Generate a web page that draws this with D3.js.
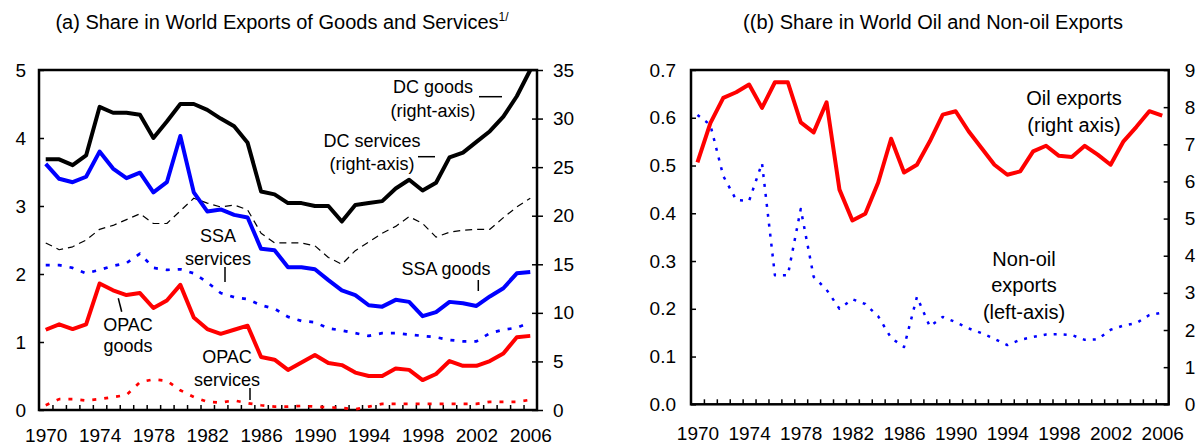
<!DOCTYPE html>
<html>
<head>
<meta charset="utf-8">
<script src="https://cdn.jsdelivr.net/npm/d3@7"></script>
<style>
body{margin:0;background:#fff;}
text{font-family:"Liberation Sans",Arial,sans-serif;fill:#000;}
</style>
</head>
<body>
<svg id="chart" width="1197" height="444"></svg>
<script>
// years on the x axis
var years = d3.range(1970, 2007);
var yearLabels = [1970, 1974, 1978, 1982, 1986, 1990, 1994, 1998, 2002, 2006];

// panel (a): share in world exports, percent
var dcGoods = [25.8,25.8,25.2,26.2,31.2,30.6,30.6,30.4,28.0,29.7,31.5,31.5,30.9,30.0,29.2,27.5,22.5,22.2,21.3,21.3,21.0,21.0,19.4,21.1,21.3,21.5,22.8,23.7,22.6,23.4,26.0,26.5,27.6,28.7,30.2,32.3,35.0];
var dcServices = [17.2,16.5,16.8,17.5,18.6,19.0,19.6,20.2,19.2,19.2,20.5,21.8,21.3,20.9,21.1,20.6,18.2,17.2,17.2,17.2,16.9,15.7,15.0,16.4,17.3,18.2,18.9,19.9,19.2,17.8,18.3,18.5,18.6,18.6,19.8,20.9,21.8];
var ssaGoods = [3.62,3.40,3.35,3.43,3.80,3.55,3.41,3.49,3.20,3.35,4.03,3.20,2.92,2.95,2.87,2.83,2.37,2.35,2.10,2.10,2.07,1.91,1.76,1.69,1.54,1.52,1.62,1.59,1.38,1.44,1.59,1.57,1.53,1.67,1.79,2.01,2.03];
var ssaServices = [2.13,2.13,2.09,2.01,2.06,2.12,2.16,2.30,2.09,2.06,2.07,2.01,1.88,1.72,1.66,1.63,1.54,1.49,1.37,1.31,1.29,1.20,1.17,1.13,1.09,1.13,1.13,1.11,1.09,1.07,1.03,1.01,1.01,1.13,1.18,1.21,1.29];
var opacGoods = [1.18,1.26,1.19,1.26,1.86,1.76,1.69,1.72,1.50,1.61,1.84,1.36,1.19,1.12,1.18,1.24,0.78,0.74,0.59,0.70,0.81,0.69,0.66,0.55,0.50,0.50,0.61,0.59,0.44,0.53,0.72,0.65,0.65,0.72,0.83,1.07,1.09];
var opacServices = [0.07,0.16,0.16,0.14,0.16,0.19,0.22,0.41,0.45,0.43,0.29,0.19,0.12,0.11,0.14,0.10,0.07,0.05,0.05,0.06,0.05,0.04,0.03,0.01,0.05,0.09,0.09,0.09,0.09,0.09,0.09,0.09,0.09,0.12,0.12,0.12,0.15];

// panel (b): oil (right axis) and non-oil (left axis)
var oilExports = [6.51,7.57,8.25,8.40,8.61,7.98,8.67,8.67,7.59,7.32,8.13,5.78,4.95,5.13,5.97,7.15,6.24,6.45,7.08,7.80,7.89,7.35,6.90,6.45,6.18,6.27,6.81,6.96,6.69,6.66,6.96,6.72,6.45,7.08,7.47,7.89,7.77];
var nonOilExports = [0.606,0.585,0.478,0.428,0.426,0.505,0.27,0.27,0.409,0.267,0.24,0.20,0.22,0.21,0.184,0.139,0.12,0.225,0.163,0.183,0.172,0.159,0.149,0.137,0.124,0.135,0.141,0.146,0.147,0.145,0.135,0.136,0.156,0.165,0.170,0.187,0.192];

var leftTicksA = [0,1,2,3,4,5];
var rightTicksA = [0,5,10,15,20,25,30,35];
var leftTicksB = [0,0.1,0.2,0.3,0.4,0.5,0.6,0.7];
var rightTicksB = [0,1,2,3,4,5,6,7,8,9];

var svg = d3.select("#chart");
var minorTicks = years.slice(0, -1).map(function(y){ return y + 0.5; });

function panel(opt){
    var g = svg.append("g");
    var x = d3.scaleLinear().domain([1969.5, 2006.5]).range([opt.x0, opt.x1]);
    var yL = d3.scaleLinear().domain(opt.leftDomain).range([opt.y0, opt.y1]);
    var yR = d3.scaleLinear().domain(opt.rightDomain).range([opt.y0, opt.y1]);

    // bottom minor ticks, pointing up
    g.append("g")
    .attr("transform", `translate(0,${opt.y0})`)
    .call(d3.axisBottom(x).tickValues(minorTicks).tickSize(-5).tickFormat(""))
    .call(a => a.select(".domain").remove())
    .selectAll("line").attr("stroke", "#000").attr("stroke-width", 1.5);
    // year labels
    g.append("g")
    .attr("transform", `translate(0,${opt.y0})`)
    .call(d3.axisBottom(x).tickValues(yearLabels).tickSize(0).tickPadding(opt.xPad).tickFormat(d3.format("d")))
    .call(a => a.select(".domain").remove())
    .selectAll("text").style("font-size", "19px");

    // left axis
    g.append("g")
    .attr("transform", `translate(${opt.x0},0)`)
    .call(d3.axisLeft(yL).tickValues(opt.leftTicks).tickSize(-5).tickPadding(opt.lPad).tickFormat(opt.leftFmt))
    .call(a => a.select(".domain").remove())
    .call(a => a.selectAll("line").attr("stroke", "#000").attr("stroke-width", 1.5))
    .selectAll("text").style("font-size", "19px");

    // right axis
    var ra = g.append("g")
    .attr("transform", `translate(${opt.x1},0)`)
    .call(d3.axisRight(yR).tickValues(opt.rightTicks).tickSize(opt.rTick).tickPadding(opt.rPad).tickFormat(d3.format("d")))
    .call(a => a.select(".domain").remove());
    ra.selectAll("line").attr("stroke", "#000").attr("stroke-width", 1.5);
    if (opt.crossTicks) ra.selectAll("line").attr("x1", -5);
    ra.selectAll("text").style("font-size", "19px");

    // frame
    g.append("rect")
    .attr("x", opt.x0).attr("y", opt.y1)
    .attr("width", opt.x1 - opt.x0).attr("height", opt.y0 - opt.y1)
    .attr("fill", "none").attr("stroke", "#000").attr("stroke-width", 2.5);

    return {g: g, x: x, yL: yL, yR: yR};
}

function drawLine(p, values, scale, color, width, dash){
    var line = d3.line()
    .x((d, i) => p.x(years[i]))
    .y(d => scale(d));
    p.g.append("path")
    .datum(values)
    .attr("d", line)
    .attr("fill", "none")
    .attr("stroke", color)
    .attr("stroke-width", width)
    .attr("stroke-linejoin", "round")
    .attr("stroke-dasharray", dash || null);
}

function label(lines, cx, y0, step, size){
    var t = svg.append("text")
    .attr("text-anchor", "middle")
    .style("font-size", size + "px");
    lines.forEach(function(s, i){
        t.append("tspan").attr("x", cx).attr("y", y0 + i * step).text(s);
    });
}

function leader(x1, y1, x2, y2){
    svg.append("line")
    .attr("x1", x1).attr("y1", y1).attr("x2", x2).attr("y2", y2)
    .attr("stroke", "#000").attr("stroke-width", 1.5);
}

// panel (a)
var pa = panel({
    x0: 39, x1: 537, y0: 410, y1: 70,
    leftDomain: [0, 5], rightDomain: [0, 35],
    leftTicks: leftTicksA, rightTicks: rightTicksA,
    leftFmt: d3.format("d"), lPad: 13, rPad: 10, rTick: 6, crossTicks: true, xPad: 19
});
drawLine(pa, dcServices, pa.yR, "#000", 1.2, "7,5");
drawLine(pa, ssaServices, pa.yL, "#0000ff", 2.7, "4,8");
drawLine(pa, opacServices, pa.yL, "#ff0000", 2.7, "4,8");
drawLine(pa, dcGoods, pa.yR, "#000", 4);
drawLine(pa, ssaGoods, pa.yL, "#0000ff", 4);
drawLine(pa, opacGoods, pa.yL, "#ff0000", 4);

// panel (b)
var pb = panel({
    x0: 691, x1: 1168.7, y0: 404.3, y1: 70,
    leftDomain: [0, 0.7], rightDomain: [0, 9],
    leftTicks: leftTicksB, rightTicks: rightTicksB,
    leftFmt: d3.format(".1f"), lPad: 15, rPad: 16, rTick: -5, crossTicks: false, xPad: 22
});
drawLine(pb, nonOilExports, pb.yL, "#0000ff", 2.5, "3,7");
drawLine(pb, oilExports, pb.yR, "#ff0000", 4);

// titles
var ta = svg.append("text").attr("x", 282).attr("y", 29).attr("text-anchor", "middle").style("font-size", "20px");
ta.append("tspan").text("(a) Share in World Exports of Goods and Services");
ta.append("tspan").attr("dy", -8).style("font-size", "12px").text("1/");
svg.append("text").attr("x", 933).attr("y", 29).attr("text-anchor", "middle").style("font-size", "20px")
.text("((b) Share in World Oil and Non-oil Exports");

// annotations panel (a)
label(["DC goods", "(right-axis)"], 433, 92.5, 24, 18);
leader(479, 96.7, 502, 96.7);
label(["DC services", "(right-axis)"], 372, 146.5, 23.5, 18);
leader(418, 156.7, 435, 156.7);
label(["SSA", "services"], 218, 241.5, 23.5, 18);
leader(225, 267, 225, 282);
label(["SSA goods"], 446, 274.5, 0, 18);
leader(478.3, 280, 478.3, 291);
label(["OPAC", "goods"], 128, 330.8, 21.5, 18);
leader(118.3, 298.3, 121.7, 311.7);
label(["OPAC", "services"], 227, 363, 23, 18);
leader(250, 388, 250, 400);

// annotations panel (b)
label(["Oil exports", "(right axis)"], 1074, 105, 26.5, 20);
label(["Non-oil", "exports", "(left-axis)"], 1024, 265.5, 26.5, 20);
</script>
</body>
</html>
